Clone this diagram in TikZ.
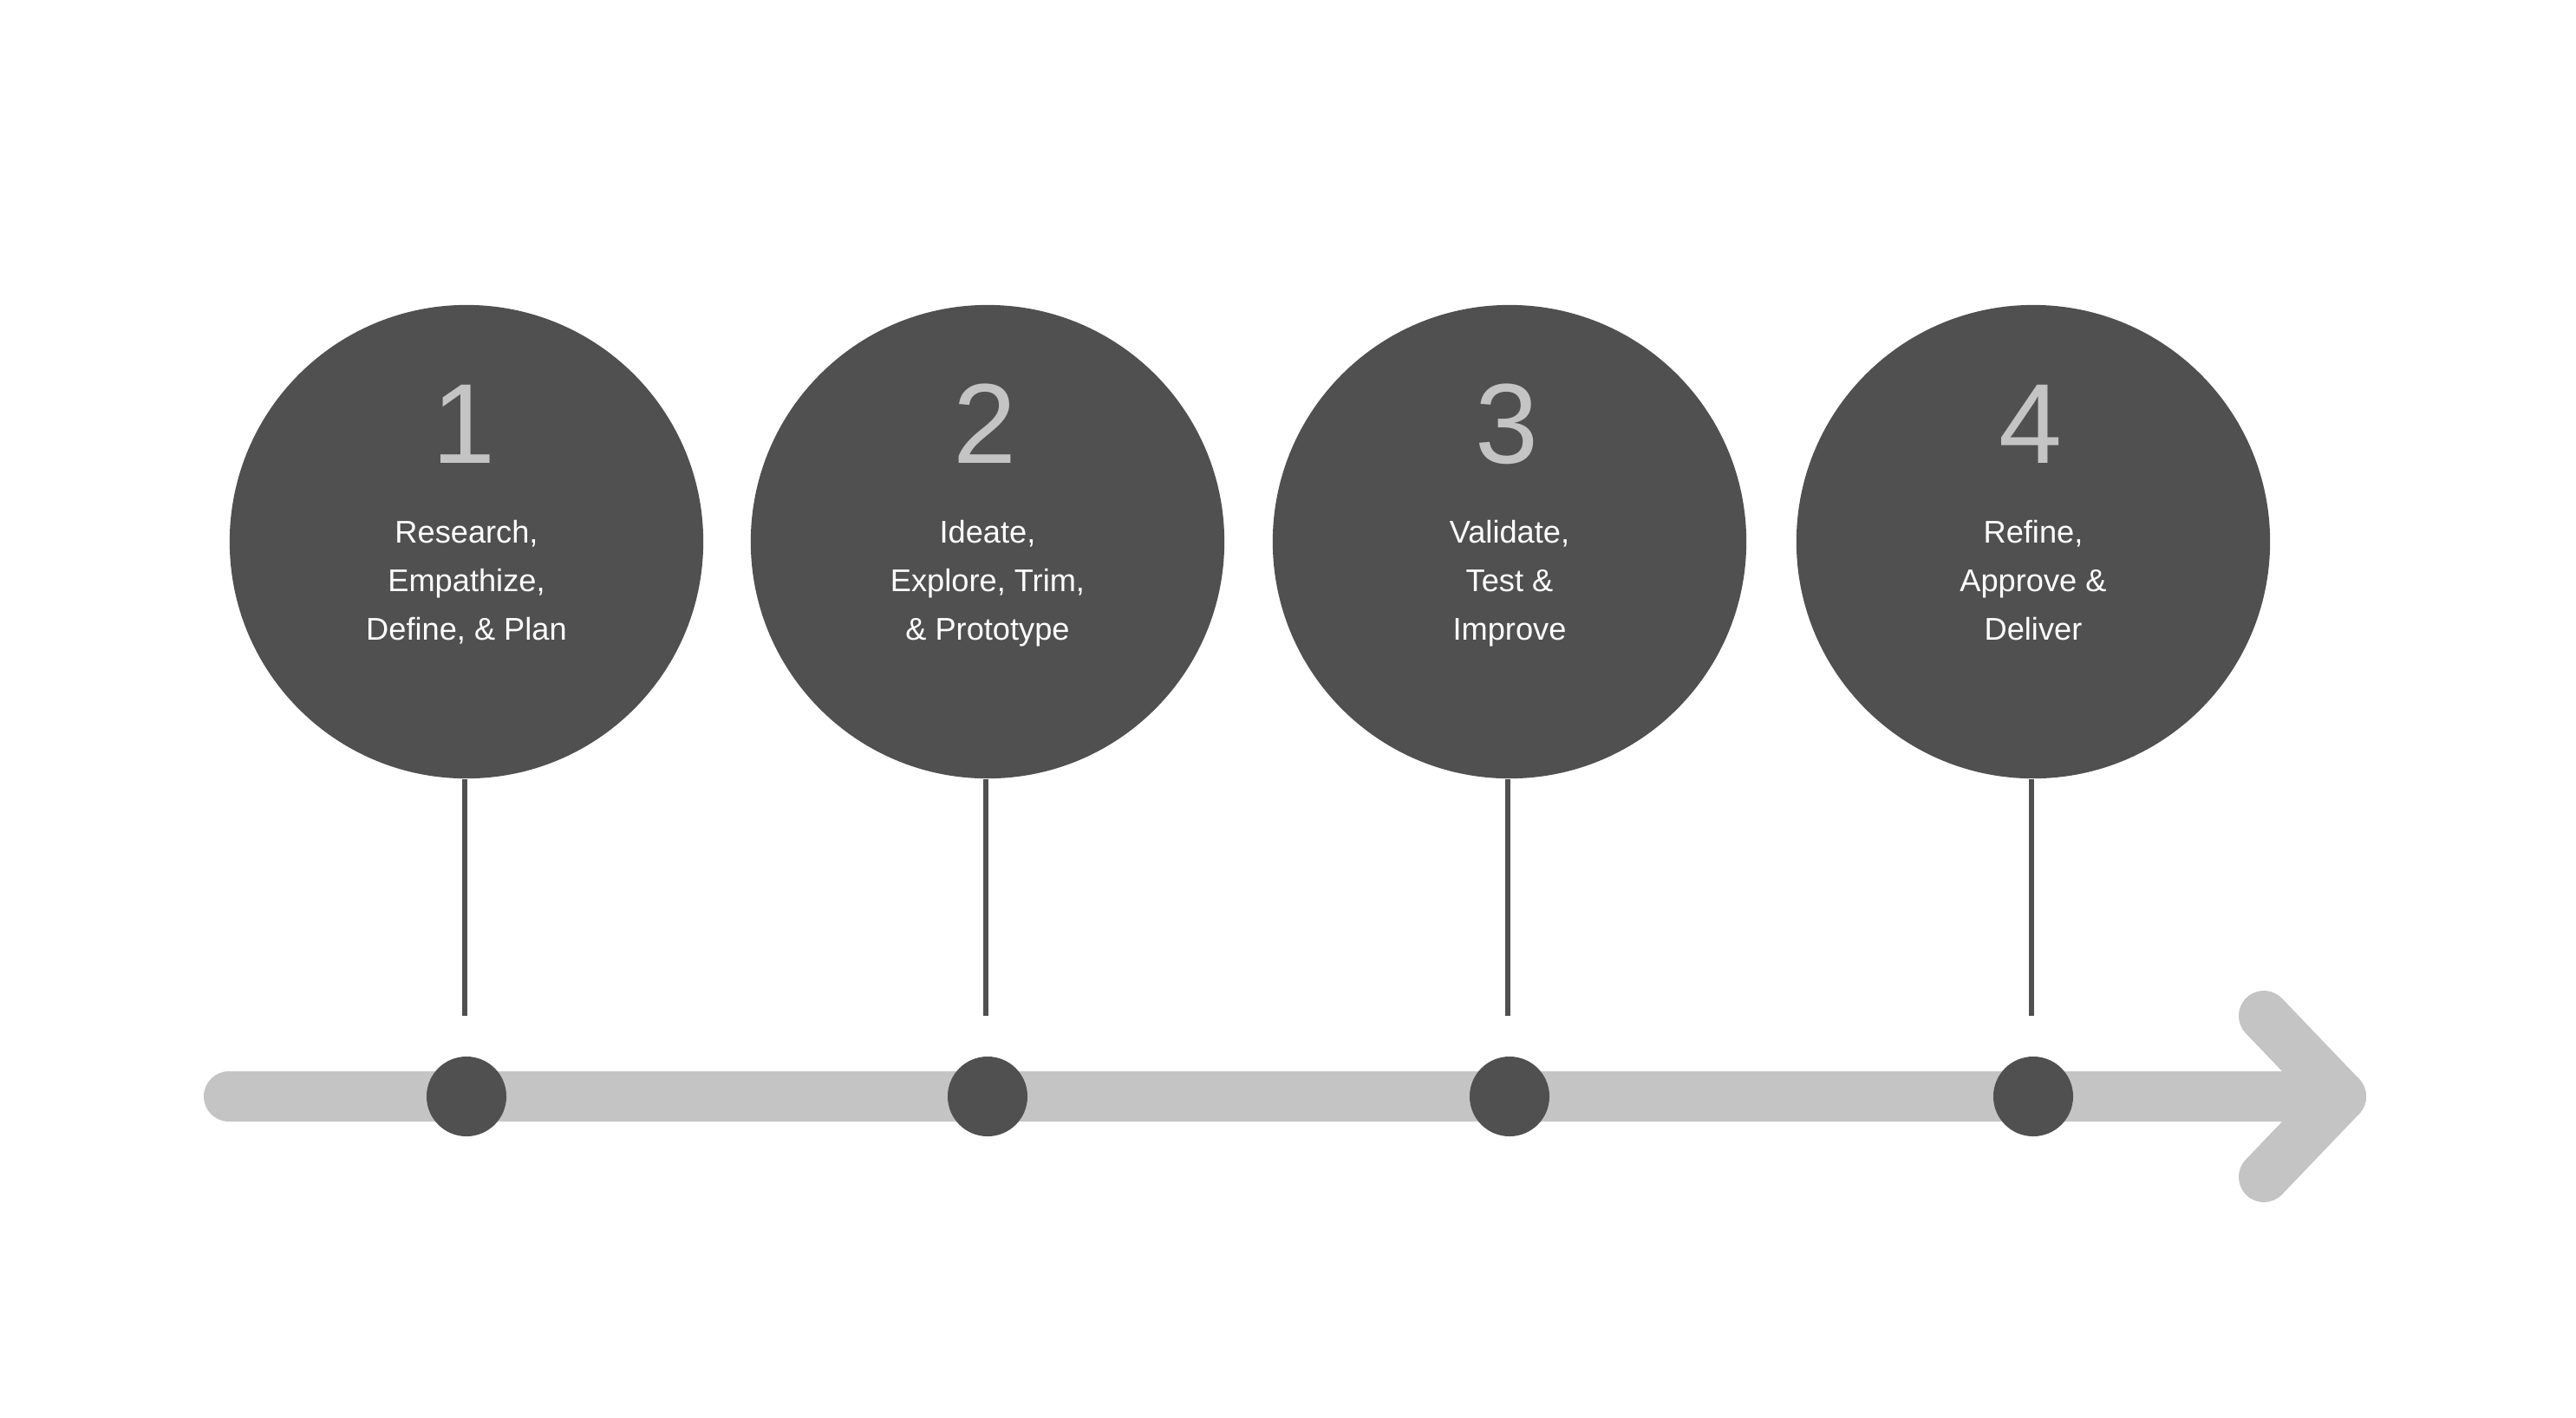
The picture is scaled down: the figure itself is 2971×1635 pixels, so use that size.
\documentclass[tikz,border=0pt]{standalone}
\usepackage{fontspec}
\setmainfont{Liberation Sans}
\definecolor{darkgrey}{HTML}{505050}
\definecolor{lightgrey}{HTML}{C4C4C4}
\begin{document}
\begin{tikzpicture}[x=0.01cm,y=-0.01cm,
  stage/.style={circle, fill=darkgrey, minimum size=5.46cm, inner sep=0pt},
  num/.style={text=lightgrey, font=\fontsize{37.3}{40}\selectfont, inner sep=0pt, anchor=center},
  lbl/.style={text=white, font=\fontsize{10.3}{12}\selectfont, inner sep=0pt, anchor=base},
  dotnode/.style={circle, fill=darkgrey, minimum size=0.92cm, inner sep=0pt},
  stem/.style={draw=darkgrey, line width=0.06cm},
  bar/.style={draw=lightgrey, line width=0.58cm, line cap=round, line join=round}]
\path[use as bounding box] (0,0) rectangle (2971,1635);

% timeline bar with chevron head
\coordinate (barstart) at (264,1265);
\coordinate (apex) at (2700,1265);
\coordinate (chevtop) at (2611,1172);
\coordinate (chevbot) at (2611,1358);
\draw[bar] (barstart) -- (apex);
\draw[bar] (chevtop) -- (apex) -- (chevbot);

% stages
\foreach \i/\x/\la/\lb/\lc in {
  1/538/{Research,}/{Empathize,}/{Define, \& Plan},
  2/1139/{Ideate,}/{Explore, Trim,}/{\& Prototype},
  3/1741/{Validate,}/{Test \&}/{Improve},
  4/2345/{Refine,}/{Approve \&}/{Deliver}} {
  \node[stage] (c\i) at (\x,625) {};
  \node[num] (n\i) at (\x-3,489) {\i};
  \node[lbl] (la\i) at (\x,626) {\la};
  \node[lbl] (lb\i) at (\x,682) {\lb};
  \node[lbl] (lc\i) at (\x,738) {\lc};
  \coordinate (e\i) at (\x-2,1172);
  \draw[stem] (c\i.south -| e\i) -- (e\i);
  \node[dotnode] (d\i) at (\x,1265) {};
}
\end{tikzpicture}
\end{document}
